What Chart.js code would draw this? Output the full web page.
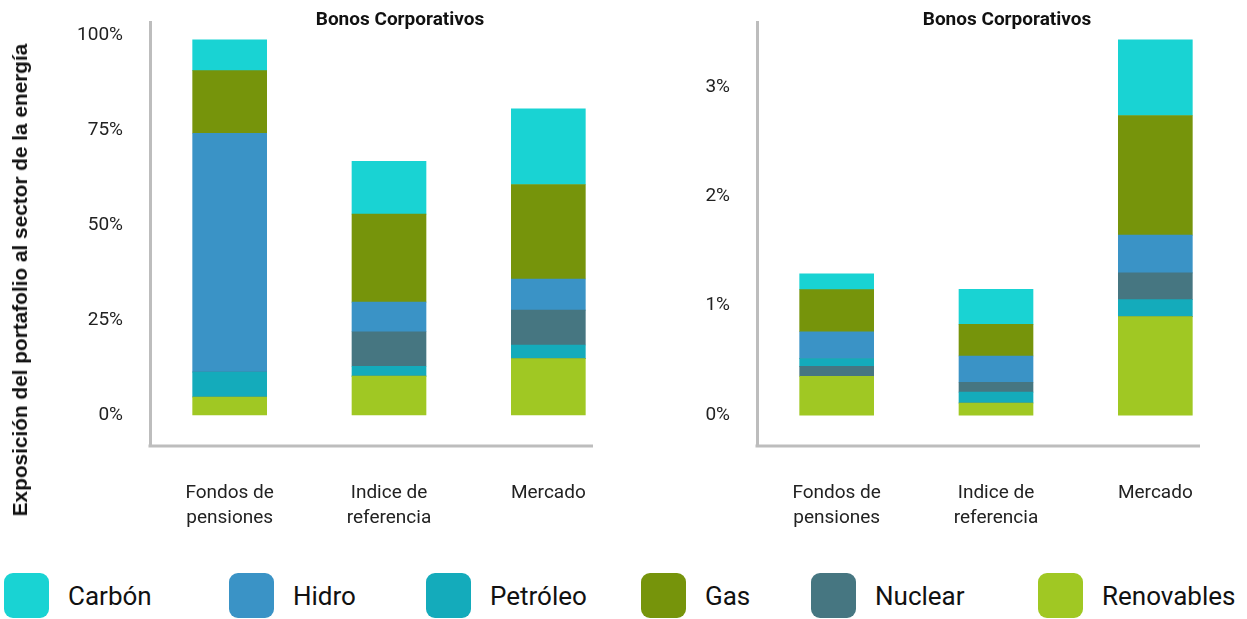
<!DOCTYPE html>
<html>
<head>
<meta charset="utf-8">
<script src="https://cdn.jsdelivr.net/npm/chart.js@4.4.1/dist/chart.umd.min.js"></script>
<style>
body{margin:0;background:#fff;width:1247px;height:619px;position:relative;overflow:hidden;font-family:Roboto,sans-serif;color:#111}
canvas{position:absolute;top:0}
.ptitle{position:absolute;top:18px;transform:translate(-50%,-50%);font:bold 19px Roboto,sans-serif;white-space:nowrap;color:#111}
#ytitle{position:absolute;left:20px;top:280px;transform:translate(-50%,-50%) rotate(-90deg);font:bold 20.8px "Liberation Sans",Arial,sans-serif;white-space:nowrap;color:#111}
.item{position:absolute;top:573px;height:45px;display:flex;align-items:center;font-size:26px;white-space:nowrap}
.sw{width:45px;height:45px;border-radius:9px;margin-right:19px}
</style>
</head>
<body>
<canvas id="left" width="640" height="540" style="left:0"></canvas>
<canvas id="right" width="607" height="540" style="left:640px"></canvas>
<div class="ptitle" style="left:400px">Bonos Corporativos</div>
<div class="ptitle" style="left:1007px">Bonos Corporativos</div>
<div id="ytitle">Exposición del portafolio al sector de la energía</div>
<div id="legend"></div>
<script>
// categories + legend
var categories = [['Fondos de', 'pensiones'], ['Indice de', 'referencia'], 'Mercado'];
var seriesNames = ['Carbón', 'Hidro', 'Petróleo', 'Gas', 'Nuclear', 'Renovables'];
var seriesColors = ['#19d3d3', '#3a93c6', '#14abbb', '#76940b', '#467681', '#a0c823'];

// left panel, % of portfolio
var leftRenovables = [4.7, 10.2, 14.8];
var leftPetroleo = [6.6, 2.6, 3.6];
var leftNuclear = [0, 9.1, 9.2];
var leftHidro = [62.9, 7.8, 8.2];
var leftGas = [16.5, 23.2, 24.9];
var leftCarbon = [8.1, 13.9, 19.9];
var leftTicks = [0, 25, 50, 75, 100];

// right panel, % of portfolio
var rightRenovables = [0.354, 0.11, 0.90];
var rightPetroleo = [0.072, 0.10, 0.156];
var rightNuclear = [0.091, 0.09, 0.245];
var rightHidro = [0.245, 0.24, 0.345];
var rightGas = [0.385, 0.29, 1.094];
var rightCarbon = [0.145, 0.32, 0.693];
var rightTicks = [0, 1, 2, 3];
// in the pension fund bar nuclear sits under oil
var rightNuclearLow = [true, false, false];

var AXIS = '#bdbdbd';
var legendX = [4, 229, 426, 641, 811, 1038];

Chart.defaults.font.family = 'Roboto';
Chart.defaults.color = '#222';

function col(name) { return seriesColors[seriesNames.indexOf(name)]; }

function makeSets(renov, petro, nuc, hidro, gas, carbon, nucLow) {
    var sets = [
        ['Renovables', renov],
        ['Nuclear', nuc.map(function (v, i) { return nucLow[i] ? v : 0; })],
        ['Petróleo', petro],
        ['Nuclear', nuc.map(function (v, i) { return nucLow[i] ? 0 : v; })],
        ['Hidro', hidro],
        ['Gas', gas],
        ['Carbón', carbon]
    ];
    return sets.map(function (s) {
        return {label: s[0], data: s[1], backgroundColor: col(s[0]), borderWidth: 0, barThickness: 74};
    });
}

var baseLine = {
    id: 'baseLine',
    afterDraw: function (c) {
        var a = c.chartArea, ctx = c.ctx;
        ctx.save();
        ctx.strokeStyle = AXIS;
        ctx.lineWidth = 3;
        ctx.beginPath();
        ctx.moveTo(a.left - 1.5, a.bottom);
        ctx.lineTo(a.right - 35, a.bottom);
        ctx.stroke();
        ctx.restore();
    }
};

function makeChart(id, sets, ticks, min, max, yWidth) {
    return new Chart(document.getElementById(id).getContext('2d'), {
        type: 'bar',
        data: {labels: categories, datasets: sets},
        plugins: [baseLine],
        options: {
            responsive: false,
            animation: false,
            devicePixelRatio: 1,
            layout: {padding: {top: 22, right: 12, left: 0, bottom: 0}},
            plugins: {legend: {display: false}, tooltip: {enabled: false}},
            scales: {
                x: {
                    stacked: true,
                    grid: {display: false, drawTicks: false},
                    border: {display: false},
                    ticks: {padding: 35, font: {size: 19, lineHeight: 1.3}, maxRotation: 0, autoSkip: false},
                    afterFit: function (s) { s.height = 94; s.paddingLeft = 0; s.paddingRight = 0; }
                },
                y: {
                    stacked: true,
                    min: min,
                    max: max,
                    grid: {display: false, drawTicks: false},
                    border: {display: true, color: AXIS, width: 3},
                    afterBuildTicks: function (s) { s.ticks = ticks.map(function (v) { return {value: v}; }); },
                    ticks: {padding: 27, font: {size: 19}, callback: function (v) { return v + '%'; }},
                    afterFit: function (s) { s.width = yWidth; s.paddingTop = 0; s.paddingBottom = 0; }
                }
            }
        }
    });
}

makeChart('left', makeSets(leftRenovables, leftPetroleo, leftNuclear, leftHidro, leftGas, leftCarbon, [false, false, false]),
    leftTicks, -8.2, 103.5, 150);
makeChart('right', makeSets(rightRenovables, rightPetroleo, rightNuclear, rightHidro, rightGas, rightCarbon, rightNuclearLow),
    rightTicks, -0.283, 3.595, 117);

// legend
var lg = document.getElementById('legend');
seriesNames.forEach(function (n, i) {
    var d = document.createElement('div');
    d.className = 'item';
    d.style.left = legendX[i] + 'px';
    d.innerHTML = '<span class="sw" style="background:' + seriesColors[i] + '"></span>' + n;
    lg.appendChild(d);
});
</script>
</body>
</html>
